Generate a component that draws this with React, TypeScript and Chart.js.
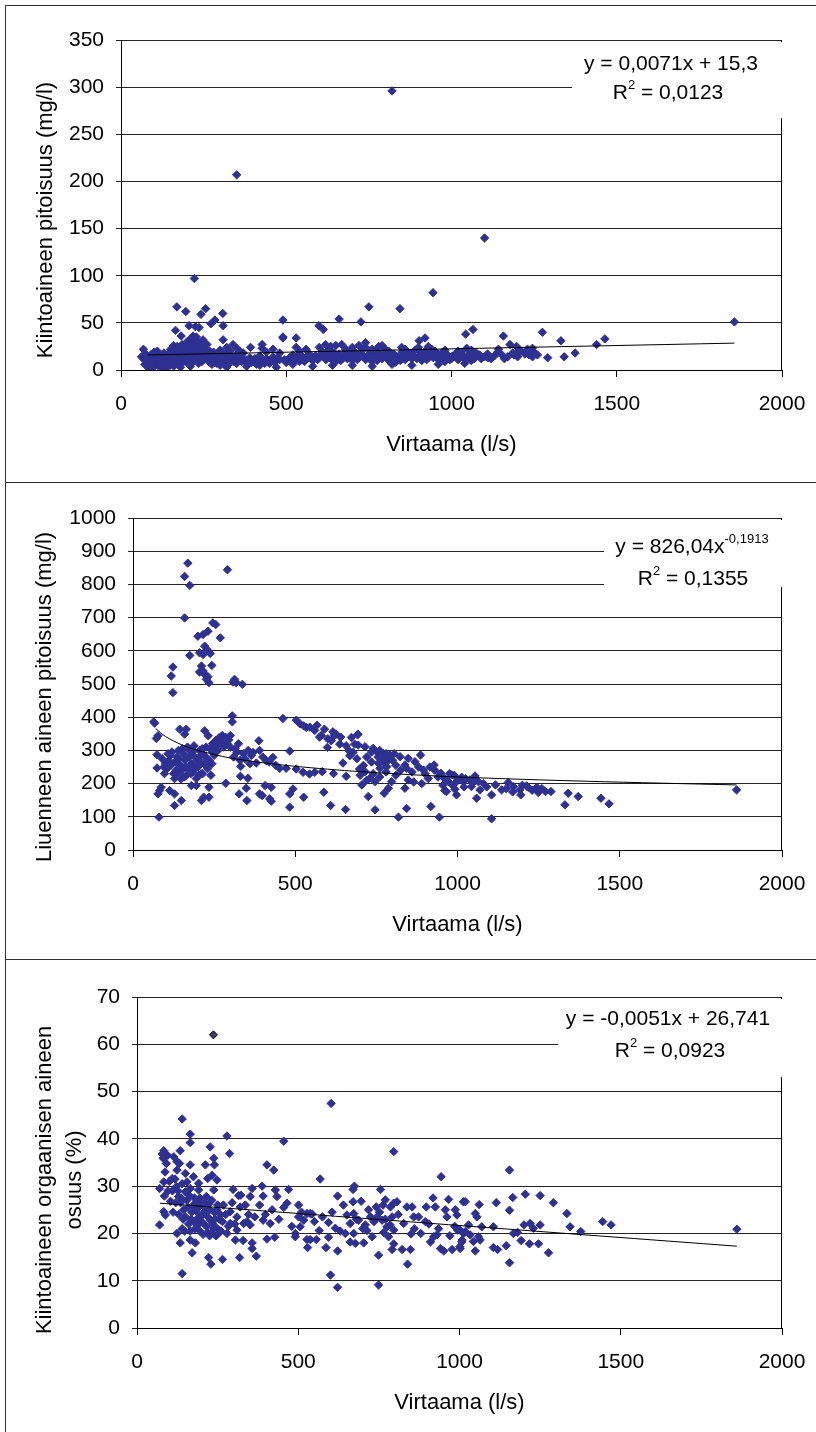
import React, { useEffect, useRef } from 'react';
import { Chart, registerables } from 'chart.js';

Chart.register(...registerables);

const FONT = '"Liberation Sans", Arial, Helvetica, sans-serif';
const MARK = '#2f3192';

// ---------- axis values ----------
const xMin = 0;
const xMax = 2000;
const xStep = 500;
const xTitle = 'Virtaama (l/s)';

const y1Max = 350;
const y1Step = 50;
const y2Max = 1000;
const y2Step = 100;
const y3Max = 70;
const y3Step = 10;

// ---------- chart 1: Kiintoaineen pitoisuus (mg/l) vs Virtaama ----------
const kiintoaine: [number, number][] = [
  [820, 296], [350, 207], [1100, 140], [222, 97], [944, 82], [169, 67], [750, 67], [844, 65], [256, 65],
  [196, 62], [308, 60], [242, 59], [660, 54], [490, 53], [284, 53], [726, 51], [1856, 51], [272, 49],
  [309, 47], [599, 47], [206, 47], [225, 46], [236, 45], [612, 43], [1065, 43], [165, 42], [1043, 38],
  [1275, 40], [1157, 36], [182, 36], [218, 36], [490, 34], [490, 35], [530, 34], [1464, 33], [309, 32],
  [920, 34], [1331, 31], [902, 31], [740, 29], [339, 27], [427, 27], [619, 27], [668, 27], [1177, 27],
  [1439, 27], [159, 26], [790, 26], [930, 25], [635, 25], [1197, 25], [392, 24], [530, 24], [849, 24],
  [350, 23], [427, 23], [700, 24], [1046, 23], [1245, 23], [1142, 22], [68, 22],
  [200, 30], [205, 28], [210, 33], [215, 25], [220, 31], [225, 27], [230, 22], [235, 29], [240, 24],
  [245, 20], [250, 26], [212, 20], [228, 35], [238, 18], [248, 32], [255, 21], [260, 27], [203, 18],
  [218, 15], [232, 14], [244, 13], [190, 22], [195, 17], [185, 27], [180, 20],
  [62, 14], [83, 2], [70, 11], [75, 17], [80, 8], [88, 4], [92, 12], [95, 6], [100, 14], [105, 9],
  [110, 5], [115, 11], [120, 16], [125, 7], [130, 4], [135, 12], [140, 9], [145, 18], [150, 6], [155, 13],
  [160, 20], [165, 10], [170, 15], [175, 5], [180, 12], [185, 8], [190, 9], [200, 10], [205, 6], [210, 12],
  [215, 8], [225, 10], [235, 7], [245, 9], [255, 12], [265, 9], [270, 15], [275, 6], [280, 19], [285, 11],
  [290, 7], [295, 14], [300, 21], [305, 10], [310, 16], [315, 8], [320, 13], [325, 6], [330, 20], [335, 11],
  [340, 9], [345, 15], [350, 7], [360, 12], [370, 18], [380, 8], [390, 13], [400, 10], [410, 6], [420, 15],
  [430, 9], [440, 12], [450, 7], [460, 14], [470, 10], [480, 18], [500, 8], [510, 13], [520, 16], [530, 11],
  [540, 9], [550, 14], [560, 12], [570, 17], [580, 10], [590, 15], [600, 13], [610, 19], [620, 11], [630, 22],
  [640, 14], [650, 9], [660, 17], [670, 12], [680, 20], [690, 15], [700, 10], [710, 18], [720, 13], [730, 22],
  [740, 11], [750, 16], [760, 9], [770, 20], [780, 14], [790, 12], [800, 18], [810, 10], [820, 15], [830, 8],
  [840, 13], [850, 19], [860, 11], [870, 16], [880, 12], [890, 21], [900, 14], [910, 10], [920, 17], [930, 13],
  [940, 22], [950, 15], [960, 11], [970, 18], [980, 9], [990, 14], [1000, 12], [1010, 16], [1020, 11],
  [1030, 19], [1040, 13], [1050, 15], [1060, 10], [1075, 18], [1090, 12], [1111, 13], [1109, 17], [1130, 15],
  [1160, 12], [1185, 18], [1200, 14], [1222, 17], [1245, 14], [1260, 16], [1291, 13], [1341, 14], [1374, 18],
  [1069, 12], [1000, 14],
  [120, 3], [140, 2], [160, 4], [180, 3], [210, 4], [300, 5], [320, 3], [380, 4], [420, 5], [470, 3],
  [520, 6], [580, 4], [640, 5], [700, 5], [760, 4], [820, 6], [880, 5], [960, 6], [1040, 7], [150, 22],
  [170, 25], [130, 18], [110, 20], [100, 19], [90, 16], [320, 24], [360, 20], [440, 19], [460, 22], [480, 11],
  [540, 20], [560, 22], [600, 24], [620, 18], [650, 26], [680, 22], [700, 20], [720, 26], [740, 24], [760, 22],
  [780, 25], [800, 22], [810, 20], [860, 22], [880, 17], [900, 24], [920, 20], [950, 20], [980, 21], [1020, 20],
  [1060, 21], [1080, 15], [1150, 17], [1200, 20], [1230, 22], [1250, 19],
  [72, 6], [78, 13], [86, 10], [98, 3], [102, 8], [108, 12], [113, 7], [118, 9], [123, 12], [128, 10],
  [133, 6], [138, 15], [143, 11], [148, 8], [153, 16], [158, 9], [163, 14], [168, 7], [173, 11], [178, 17],
  [183, 15], [188, 13], [193, 11], [198, 14], [202, 24], [208, 16], [213, 13], [217, 22], [222, 18],
  [227, 16], [233, 19], [237, 12], [242, 16], [247, 23], [252, 15], [258, 17], [262, 13], [268, 20],
  [272, 11], [278, 13], [283, 8], [288, 16], [293, 10], [298, 9], [303, 14], [308, 12], [313, 11],
  [318, 18], [328, 9], [333, 14], [343, 12], [348, 10], [355, 14], [365, 9], [375, 11], [385, 10],
  [395, 8], [405, 12], [415, 9], [425, 11], [435, 7], [445, 10], [455, 11], [465, 8], [475, 13],
  [495, 11], [505, 10], [515, 9], [525, 13], [535, 15], [545, 11], [555, 9], [565, 13], [575, 12],
  [585, 14], [595, 11], [605, 16], [615, 14], [625, 15], [635, 12], [645, 18], [655, 14], [665, 10],
  [675, 16], [685, 12], [695, 19], [705, 14], [715, 11], [725, 17], [735, 15], [745, 13], [755, 19],
  [765, 15], [775, 10], [785, 17], [795, 14], [805, 13], [815, 11], [825, 17], [835, 14], [845, 10],
  [855, 15], [865, 13], [875, 18], [885, 15], [895, 12], [905, 19], [915, 15], [925, 11], [935, 17],
  [945, 13], [955, 17], [965, 14], [975, 12], [985, 17], [995, 11], [1005, 15], [1015, 13], [1025, 17],
  [1035, 14], [1045, 11], [1055, 17], [1065, 14], [1085, 16], [1100, 14], [1120, 12], [1140, 19],
  [1170, 14], [1190, 16], [1210, 20], [1235, 16],
];
const kiintoaineTrend: [number, number][] = [[80, 15.9], [1856, 28.5]];

// ---------- chart 2: Liuenneen aineen pitoisuus (mg/l) vs Virtaama ----------
const liuennut: [number, number][] = [
  [169, 864], [159, 824], [175, 797], [291, 844], [159, 699], [246, 684], [255, 679], [269, 639], [200, 644],
  [216, 649], [231, 659], [221, 614], [228, 604], [205, 594], [216, 589], [238, 592], [175, 586], [243, 556],
  [211, 554], [205, 536], [221, 529], [231, 522], [216, 539], [234, 504], [226, 514], [123, 551], [118, 524],
  [123, 474], [313, 514], [318, 504], [337, 499], [308, 506], [306, 404], [306, 386], [64, 386], [67, 382],
  [77, 344], [72, 336], [144, 364], [164, 364], [159, 349], [221, 359], [232, 344],
  [255, 330], [265, 338], [275, 345], [285, 340], [295, 332], [270, 325], [290, 320], [300, 310], [280, 310],
  [260, 318], [245, 320], [250, 310],
  [388, 329], [462, 396], [503, 391], [526, 374], [534, 369], [567, 376], [590, 364], [616, 356], [626, 349],
  [611, 329], [637, 319], [673, 339], [693, 349], [657, 314], [599, 309], [483, 298], [74, 287], [74, 247],
  [95, 250], [100, 260], [105, 245], [110, 270], [115, 285], [120, 295], [125, 230], [130, 265], [135, 280],
  [140, 300], [145, 255], [150, 240], [155, 290], [160, 270], [165, 225], [170, 245], [175, 300], [180, 260],
  [185, 235], [190, 280], [195, 215], [200, 250], [205, 300], [210, 265], [215, 230], [220, 285], [225, 310],
  [230, 245], [235, 270], [240, 225], [245, 295], [128, 215], [148, 214], [168, 310], [188, 314], [138, 230],
  [158, 220], [210, 230], [198, 270],
  [332, 252], [331, 222], [354, 216], [349, 186], [327, 169], [351, 149], [286, 201], [390, 169], [398, 164],
  [407, 194], [426, 189], [421, 154], [426, 147], [483, 169], [493, 184], [483, 129], [526, 159], [588, 174],
  [609, 134], [655, 122], [80, 99], [77, 169], [82, 179], [87, 189], [113, 179], [128, 169], [128, 134],
  [149, 149], [180, 194], [195, 194], [234, 189], [211, 149], [218, 159], [234, 159],
  [370, 294], [380, 262], [411, 269], [431, 279], [452, 246], [472, 246], [503, 244], [524, 234], [544, 229],
  [560, 234], [583, 236], [618, 230], [657, 222], [647, 262], [668, 284], [678, 294], [698, 244], [683, 319],
  [320, 295], [340, 290], [355, 300], [365, 285], [345, 275], [310, 280], [330, 270], [360, 260], [400, 280],
  [420, 265], [440, 255], [390, 300],
  [692, 347], [694, 316], [715, 311], [740, 306], [751, 296], [771, 291], [792, 286], [787, 271], [776, 261],
  [756, 261], [761, 246], [782, 251], [823, 281], [848, 276], [869, 266], [886, 286], [838, 256], [843, 246],
  [895, 241], [915, 250], [928, 256], [949, 231], [982, 226], [1013, 219], [1054, 223], [1038, 211],
  [1064, 206], [1018, 206], [992, 201], [972, 206], [705, 241], [715, 236], [730, 216], [746, 206], [705, 196],
  [797, 206], [848, 211], [961, 179], [966, 176], [992, 183], [997, 166], [1043, 191], [1069, 181], [1059, 156],
  [1105, 166], [1117, 196], [1136, 181], [1156, 203], [1172, 191], [1192, 181], [1195, 166], [1213, 193],
  [1218, 189], [1244, 189], [1249, 173], [1271, 176], [1288, 176], [1341, 171], [1372, 161], [1331, 136],
  [1442, 156], [1467, 139], [1860, 181], [725, 161], [746, 121], [818, 99], [843, 125], [918, 131], [944, 99],
  [1105, 94], [787, 186], [774, 171], [838, 186],
  [720, 280], [735, 295], [760, 300], [770, 275], [800, 270], [810, 255], [825, 240], [860, 235], [880, 250],
  [900, 230], [910, 215], [930, 240], [940, 220], [960, 215], [975, 230], [990, 225], [1000, 210], [1025, 215],
  [1050, 205], [1080, 200], [1090, 190], [1150, 185], [1170, 175], [1200, 195], [1230, 180], [1260, 185],
  [700, 225], [720, 210], [740, 230], [760, 220], [780, 235], [810, 225], [865, 205], [890, 200], [955, 195],
  [985, 195], [1020, 190], [710, 255], [735, 265], [755, 280], [780, 290], [805, 290], [690, 275], [665, 300],
  [640, 340], [620, 345], [600, 335], [580, 345], [560, 360], [545, 370], [515, 380], [575, 340],
  [90, 275], [97, 230], [108, 290], [117, 255], [133, 240], [142, 275], [152, 305], [162, 250], [172, 280],
  [178, 230], [183, 295], [193, 250], [203, 225], [208, 285], [213, 305], [223, 255], [228, 275], [238, 305],
  [243, 260], [250, 285], [262, 300], [272, 335], [282, 330], [300, 345], [315, 305], [325, 320],
];
const liuennutTrend: [number, number][] = [
  [70, 366], [100, 342], [150, 317], [200, 300], [300, 277], [400, 263], [500, 252], [700, 236],
  [1000, 220], [1400, 207], [1860, 196],
];

// ---------- chart 3: Kiintoaineen orgaanisen aineen osuus (%) vs Virtaama ----------
const orgaaninen: [number, number][] = [
  [140, 44.2], [165, 41.0], [165, 39.2], [279, 40.6], [287, 36.9], [455, 39.5], [602, 47.5], [796, 37.3],
  [943, 32.0], [1155, 33.4],
  [83, 37.5], [81, 35.9], [91, 34.8], [134, 37.5], [114, 36.2], [124, 35.2], [132, 34.8], [212, 34.5],
  [238, 35.9], [240, 34.5], [227, 38.3], [165, 34.5], [150, 32.7], [124, 33.4], [109, 31.6], [83, 30.9],
  [155, 30.9], [191, 30.6], [219, 31.6], [233, 32.3], [248, 31.3], [403, 34.5], [424, 33.4], [568, 31.5],
  [70, 29.5], [85, 27.9], [70, 21.8], [83, 24.6], [88, 23.9], [122, 29.9], [129, 27.8], [150, 28.8],
  [165, 29.5], [191, 29.2], [238, 29.2], [298, 29.3], [357, 29.5], [388, 30.0], [470, 29.3], [429, 29.2],
  [322, 28.1], [351, 27.8], [391, 27.9], [434, 27.8], [465, 26.4], [501, 26.0], [537, 24.2],
  [135, 26.5], [145, 25.0], [150, 23.5], [155, 27.0], [160, 22.0], [170, 24.5], [175, 26.0], [180, 21.0],
  [185, 23.0], [190, 25.5], [195, 20.5], [200, 22.5], [205, 24.0], [210, 26.5], [215, 21.5], [220, 23.5],
  [225, 25.0], [230, 20.0], [235, 22.0], [240, 24.5], [245, 19.5], [250, 21.0], [255, 23.0], [260, 20.5],
  [265, 22.5], [140, 21.0], [165, 20.5], [185, 26.5], [205, 19.8], [225, 19.5], [175, 22.5], [195, 27.5],
  [215, 27.8], [250, 26.0], [130, 24.0], [120, 26.5], [110, 29.0], [100, 31.0], [95, 36.5], [140, 30.5],
  [175, 32.0],
  [289, 24.6], [310, 23.5], [320, 25.6], [289, 22.1], [310, 20.7], [331, 22.1], [351, 21.8], [341, 22.5],
  [391, 22.8], [413, 22.1], [419, 25.0],
  [124, 20.0], [134, 18.0], [165, 18.6], [181, 18.0], [171, 15.9], [222, 14.9], [229, 13.5], [265, 14.5],
  [318, 14.9], [370, 15.2], [140, 11.5],
  [279, 20.0], [305, 18.6], [329, 18.5], [357, 18.0], [357, 16.8], [403, 18.8], [427, 19.2],
  [491, 20.0], [491, 19.3], [506, 21.4], [517, 22.8], [501, 23.5], [527, 24.2], [543, 24.1], [527, 18.7],
  [537, 18.7], [556, 18.7], [529, 17.0], [565, 20.6], [586, 17.0], [594, 19.2], [594, 22.3], [615, 21.1],
  [622, 27.9], [622, 16.3], [600, 11.2], [622, 8.6],
  [646, 20.0], [661, 18.2], [677, 17.9], [703, 18.0], [672, 20.0], [661, 22.1], [651, 23.9], [672, 24.2],
  [670, 26.7], [670, 29.3], [674, 30.0], [695, 26.8], [687, 22.8], [708, 21.8], [713, 20.6], [729, 19.3],
  [724, 23.5], [718, 25.0], [742, 25.6], [744, 23.5], [760, 22.8], [755, 29.3], [763, 26.0], [770, 27.1],
  [786, 25.6], [796, 26.4], [806, 26.7], [791, 23.5], [775, 21.4], [765, 20.2], [749, 15.4], [791, 16.6],
  [796, 17.8], [780, 19.3], [796, 20.7], [822, 16.6], [827, 22.1], [837, 25.6], [853, 25.6], [858, 23.5],
  [850, 19.9], [848, 16.6], [839, 13.5], [873, 23.5], [894, 22.5], [897, 25.6], [918, 27.5], [925, 25.6],
  [910, 18.2], [920, 19.3], [930, 19.7], [941, 16.8], [951, 16.3], [966, 27.2], [956, 25.0], [961, 23.5],
  [987, 25.0], [992, 23.9], [977, 16.6], [1001, 17.2], [1008, 18.6], [1013, 20.0], [1018, 26.7], [994, 20.7],
  [749, 9.1],
  [1165, 27.6], [1204, 28.3], [1250, 28.0], [1291, 26.5], [1333, 24.2], [1343, 21.4], [1376, 20.4],
  [1444, 22.5], [1470, 21.8], [1860, 20.9], [1155, 24.9], [1114, 26.5], [1061, 26.1], [1012, 26.7],
  [1049, 24.2], [1054, 23.5], [1028, 21.8], [1069, 21.4], [1105, 21.4], [1002, 20.7], [1018, 20.4],
  [1033, 19.7], [1059, 19.3], [1064, 18.6], [1043, 18.3], [1007, 18.2], [1002, 16.8], [1049, 16.3],
  [1105, 17.0], [1118, 16.6], [1145, 17.4], [1155, 13.8], [1167, 20.0], [1180, 20.2], [1200, 21.8],
  [1219, 22.1], [1229, 21.1], [1250, 21.8], [1191, 18.5], [1217, 17.8], [1245, 17.8], [1276, 15.9],
  [78, 36.8], [87, 33.0], [96, 29.0], [104, 26.8], [112, 24.5], [118, 31.5], [127, 29.0], [137, 27.5],
  [143, 23.0], [148, 20.5], [158, 25.5], [162, 28.0], [168, 23.0], [178, 27.5], [183, 24.8], [188, 21.8],
  [197, 23.8], [202, 26.0], [208, 22.0], [212, 24.8], [218, 20.2], [222, 26.2], [228, 22.8], [232, 27.0],
  [237, 21.0], [242, 23.0], [248, 25.0], [253, 20.0], [258, 24.0], [268, 26.0], [275, 24.0], [283, 21.5],
  [295, 26.5], [303, 22.0], [315, 28.0], [336, 26.0], [346, 24.0], [365, 23.5], [380, 26.0], [398, 24.0],
  [440, 23.0], [455, 25.5], [480, 21.5], [510, 24.5], [550, 22.5], [575, 23.5], [605, 24.5], [630, 20.5],
  [640, 26.0], [680, 23.0], [700, 21.0], [735, 22.5], [752, 24.5], [770, 23.0], [785, 21.8], [810, 24.0],
  [860, 21.0], [880, 20.0], [905, 22.0], [935, 21.0], [970, 19.5], [985, 21.5],
];
const orgaaninenErillinen: [number, number][] = [[237, 62]];
const orgaaninenTrend: [number, number][] = [[71, 26.4], [1860, 17.3]];

// ---------- panel specs ----------
type Part = { t: string; sup?: boolean };
type Spec = {
  top: number;
  height: number;
  points: [number, number][];
  special?: [number, number][];
  trend: [number, number][];
  yMax: number;
  yStep: number;
  yAxisWidth: number;
  pad: { top: number; right: number; bottom: number };
  yTitle: string[];
  yTitleX: number[];
  yTitleY: number;
  box: [number, number, number, number];
  legend: { parts: Part[]; cx: number; cy: number }[];
};

const specs: Spec[] = [
  {
    top: 0,
    height: 480,
    points: kiintoaine,
    trend: kiintoaineTrend,
    yMax: y1Max,
    yStep: y1Step,
    yAxisWidth: 121,
    pad: { top: 40, right: 34, bottom: 22 },
    yTitle: ['Kiintoaineen pitoisuus (mg/l)'],
    yTitleX: [46],
    yTitleY: 220,
    box: [572, 42, 787, 118],
    legend: [
      { parts: [{ t: 'y = 0,0071x + 15,3' }], cx: 671, cy: 64 },
      { parts: [{ t: 'R' }, { t: '2', sup: true }, { t: ' = 0,0123' }], cx: 668, cy: 93 },
    ],
  },
  {
    top: 480,
    height: 480,
    points: liuennut,
    trend: liuennutTrend,
    yMax: y2Max,
    yStep: y2Step,
    yAxisWidth: 133,
    pad: { top: 38, right: 34, bottom: 22 },
    yTitle: ['Liuenneen aineen pitoisuus (mg/l)'],
    yTitleX: [44.5],
    yTitleY: 217,
    box: [604, 40, 787, 107],
    legend: [
      { parts: [{ t: 'y = 826,04x' }, { t: '-0,1913', sup: true }], cx: 692, cy: 67 },
      { parts: [{ t: 'R' }, { t: '2', sup: true }, { t: ' = 0,1355' }], cx: 693, cy: 99 },
    ],
  },
  {
    top: 960,
    height: 472,
    points: orgaaninen,
    special: orgaaninenErillinen,
    trend: orgaaninenTrend,
    yMax: y3Max,
    yStep: y3Step,
    yAxisWidth: 137,
    pad: { top: 37, right: 34, bottom: 16 },
    yTitle: ['Kiintoaineen orgaanisen aineen', 'osuus (%)'],
    yTitleX: [44.5, 75],
    yTitleY: 220,
    box: [558, 39, 787, 117],
    legend: [
      { parts: [{ t: 'y = -0,0051x + 26,741' }], cx: 668, cy: 59 },
      { parts: [{ t: 'R' }, { t: '2', sup: true }, { t: ' = 0,0923' }], cx: 670, cy: 91 },
    ],
  },
];

const MAIN_FONT = `21px ${FONT}`;
const SUP_FONT = `13px ${FONT}`;

function drawParts(ctx: CanvasRenderingContext2D, parts: Part[], cx: number, cy: number) {
  let total = 0;
  const widths = parts.map((p) => {
    ctx.font = p.sup ? SUP_FONT : MAIN_FONT;
    const w = ctx.measureText(p.t).width;
    total += w;
    return w;
  });
  let x = cx - total / 2;
  ctx.textAlign = 'left';
  ctx.textBaseline = 'middle';
  ctx.fillStyle = '#000';
  parts.forEach((p, i) => {
    ctx.font = p.sup ? SUP_FONT : MAIN_FONT;
    ctx.fillText(p.t, x, p.sup ? cy - 8 : cy);
    x += widths[i];
  });
}

function makeDecor(spec: Spec) {
  return {
    id: 'decor',
    afterDatasetsDraw(chart: any) {
      const { ctx, chartArea: a } = chart;
      ctx.save();
      // right border of plot area
      ctx.strokeStyle = '#000';
      ctx.lineWidth = 1;
      const rx = Math.round(a.right) - 0.5;
      ctx.beginPath();
      ctx.moveTo(rx, a.top);
      ctx.lineTo(rx, a.bottom);
      ctx.stroke();
      // trendline label box
      const [x0, y0, x1, y1] = spec.box;
      ctx.fillStyle = '#fff';
      ctx.fillRect(x0, y0, x1 - x0, y1 - y0);
      spec.legend.forEach((l) => drawParts(ctx, l.parts, l.cx, l.cy));
      // y axis title
      ctx.font = `22px ${FONT}`;
      ctx.fillStyle = '#000';
      ctx.textAlign = 'center';
      ctx.textBaseline = 'middle';
      spec.yTitle.forEach((t, i) => {
        ctx.save();
        ctx.translate(spec.yTitleX[i], spec.yTitleY);
        ctx.rotate(-Math.PI / 2);
        ctx.fillText(t, 0, 0);
        ctx.restore();
      });
      ctx.restore();
    },
  };
}

function buildConfig(spec: Spec): any {
  const toXY = (arr: [number, number][]) => arr.map(([x, y]) => ({ x, y }));
  const datasets: any[] = [
    {
      type: 'line',
      data: toXY(spec.trend),
      borderColor: '#000',
      borderWidth: 1,
      pointRadius: 0,
      fill: false,
      tension: 0.3,
    },
  ];
  if (spec.special) {
    datasets.push({
      type: 'scatter',
      data: toXY(spec.special),
      pointStyle: 'rectRot',
      pointRadius: 4,
      backgroundColor: '#3c3c66',
      borderColor: '#000',
      borderWidth: 1,
    });
  }
  datasets.push({
    type: 'scatter',
    data: toXY(spec.points),
    pointStyle: 'rectRot',
    pointRadius: 4.2,
    backgroundColor: MARK,
    borderColor: MARK,
    borderWidth: 1,
  });
  return {
    type: 'scatter',
    data: { datasets },
    options: {
      animation: false,
      responsive: false,
      devicePixelRatio: 1,
      layout: { padding: { left: 0, top: spec.pad.top, right: spec.pad.right, bottom: spec.pad.bottom } },
      plugins: { legend: { display: false }, tooltip: { enabled: false }, title: { display: false } },
      scales: {
        x: {
          type: 'linear',
          min: xMin,
          max: xMax,
          ticks: {
            stepSize: xStep,
            color: '#000',
            font: { family: FONT, size: 21 },
            padding: 15,
            maxRotation: 0,
            callback: (v: any) => String(v),
          },
          grid: { drawOnChartArea: false, drawTicks: true, tickLength: 7, color: '#000', lineWidth: 1 },
          border: { color: '#000', width: 1 },
          title: { display: true, text: xTitle, color: '#000', font: { family: FONT, size: 22 }, padding: 0 },
          afterFit: (s: any) => {
            s.height = 88;
            s.paddingLeft = 0;
            s.paddingRight = 0;
          },
        },
        y: {
          type: 'linear',
          min: 0,
          max: spec.yMax,
          ticks: {
            stepSize: spec.yStep,
            color: '#000',
            font: { family: FONT, size: 21 },
            padding: 12,
            callback: (v: any) => String(v),
          },
          grid: { color: '#222', lineWidth: 1, tickLength: 5 },
          border: { color: '#000', width: 1 },
          afterFit: (s: any) => {
            s.width = spec.yAxisWidth;
            s.paddingTop = 0;
            s.paddingBottom = 0;
          },
        },
      },
    },
    plugins: [makeDecor(spec)],
  };
}

function Panel({ spec }: { spec: Spec }) {
  const ref = useRef<HTMLCanvasElement>(null);
  useEffect(() => {
    const canvas = ref.current;
    if (!canvas) return;
    const chart = new Chart(canvas, buildConfig(spec));
    return () => chart.destroy();
  }, [spec]);
  return (
    <canvas
      ref={ref}
      width={816}
      height={spec.height}
      style={{ position: 'absolute', left: 0, top: spec.top, width: 816, height: spec.height, display: 'block' }}
    />
  );
}

export default function App() {
  const line = '1px solid #333';
  return (
    <div style={{ position: 'absolute', left: 0, top: 0, width: 816, height: 1432, background: '#fff', overflow: 'hidden' }}>
      {specs.map((s, i) => (
        <Panel key={i} spec={s} />
      ))}
      <div style={{ position: 'absolute', left: 5, top: 5, width: 811, height: 0, borderTop: line }} />
      <div style={{ position: 'absolute', left: 5, top: 5, width: 0, height: 1427, borderLeft: line }} />
      <div style={{ position: 'absolute', left: 5, top: 482, width: 811, height: 0, borderTop: line }} />
      <div style={{ position: 'absolute', left: 5, top: 959, width: 811, height: 0, borderTop: line }} />
    </div>
  );
}
